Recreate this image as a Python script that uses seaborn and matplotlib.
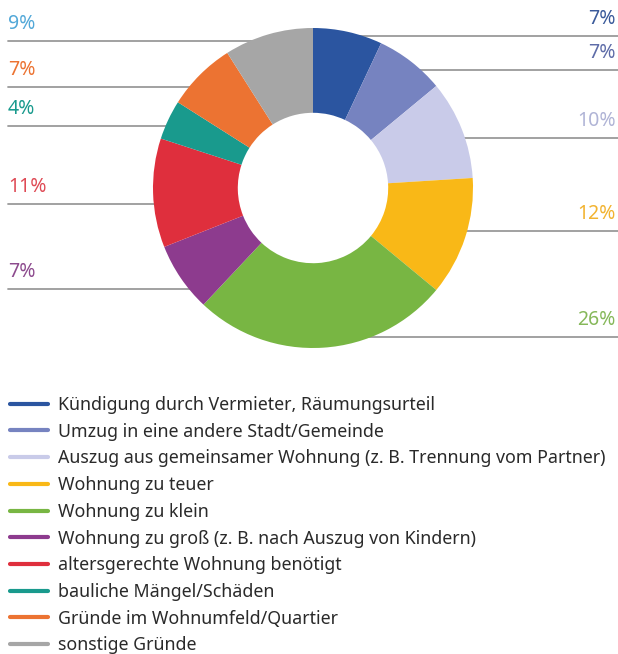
import numpy as np
import matplotlib
matplotlib.use('Agg')
import matplotlib.pyplot as plt
from matplotlib.lines import Line2D
import seaborn as sns

# data
reasons = ['Kündigung durch Vermieter, Räumungsurteil',
           'Umzug in eine andere Stadt/Gemeinde',
           'Auszug aus gemeinsamer Wohnung (z. B. Trennung vom Partner)',
           'Wohnung zu teuer',
           'Wohnung zu klein',
           'Wohnung zu groß (z. B. nach Auszug von Kindern)',
           'altersgerechte Wohnung benötigt',
           'bauliche Mängel/Schäden',
           'Gründe im Wohnumfeld/Quartier',
           'sonstige Gründe']
shares = [7, 7, 10, 12, 26, 7, 11, 4, 7, 9]

colors = ['#2b55a0', '#7683c0', '#c9cbe9', '#f9b817', '#78b643',
          '#8d3b8e', '#df2f3d', '#199a8d', '#ec7332', '#a6a6a6']
label_colors = ['#3a5a9a', '#5e6ca8', '#b0b4d6', '#f2b330', '#86b85a',
                '#8d4b8e', '#df4a55', '#199a8d', '#ec7332', '#52a8d8']
# label side and y position of the leader line (pixels from top)
label_side = ['r', 'r', 'r', 'r', 'r', 'l', 'l', 'l', 'l', 'l']
line_y = [36, 70, 138, 231, 337, 289, 204, 126, 87, 41]

sns.set_theme(style='white')
plt.rcParams['font.family'] = ['Noto Sans', 'DejaVu Sans']

W, H = 618, 654
fig = plt.figure(figsize=(W / 100, H / 100), dpi=100)
ax = fig.add_axes([0, 0, 1, 1])

cx, cy, R = 313, H - 188, 160
palette = sns.color_palette(colors)
wedges, _ = ax.pie(shares, colors=palette, startangle=90, counterclock=False,
                   center=(cx, cy), radius=R,
                   wedgeprops=dict(width=R * 0.53, linewidth=0, zorder=3))
ax.set_xlim(0, W)
ax.set_ylim(0, H)
ax.set_aspect('equal')
ax.axis('off')

for s, c, side, yp in zip(shares, label_colors, label_side, line_y):
    y = H - yp
    dx = np.sqrt(max(R ** 2 - (y - cy) ** 2, 0))
    if side == 'r':
        x0, x1 = cx + dx - 4, W
        ax.text(W - 2, y + 12, f'{s}%', color=c, fontsize=14, ha='right', va='baseline')
    else:
        x0, x1 = 8, cx - dx + 4
        ax.text(8, y + 12, f'{s}%', color=c, fontsize=14, ha='left', va='baseline')
    ax.plot([x0, x1], [y, y], color='#9a9a9a', lw=1.3, zorder=1)

handles = [Line2D([0], [0], color=c, lw=3) for c in colors]
leg = ax.legend(handles, reasons, loc='upper left', bbox_to_anchor=(10 / W, 1 - 396 / H),
                frameon=False, fontsize=12.8, handlelength=2.15, handletextpad=0.55,
                labelspacing=0.49, borderaxespad=0, borderpad=0)
for t in leg.get_texts():
    t.set_color('#2a2a2a')

fig.savefig('out.png', dpi=100)
